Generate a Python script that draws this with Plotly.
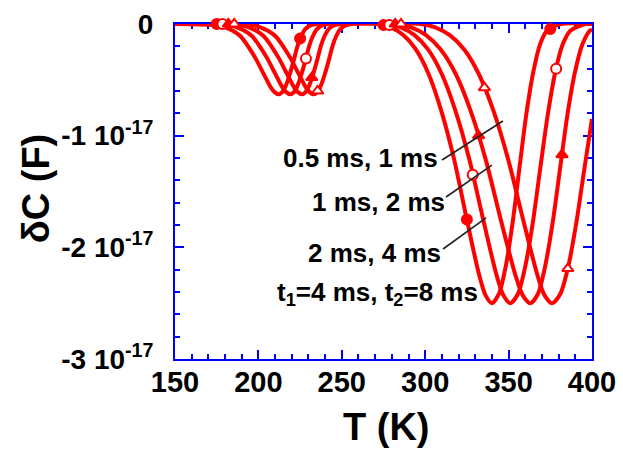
import plotly.graph_objects as go

# ---------------- data (units of 1e-17 F) ----------------
# curve for t1=4 ms, t2=8 ms (filled circles)
T_A = [150, 175.6, 180.2, 184.7, 189.3, 193.8, 198.4, 202.9, 207.5, 209.7, 212, 214.3, 216.5, 218.8, 221.1,
       223.4, 225.6, 227.9, 230.2, 234.7,
       271.8, 279.4, 287, 294.5, 302.1, 309.7, 317.3, 324.8, 332.4, 336.2, 340, 344.1, 348.3, 352.4, 356.5,
       360.6, 364.8, 368.9, 373, 381.3, 400]
C_A = [0, -0.01, -0.03, -0.06, -0.11, -0.20, -0.31, -0.44, -0.57, -0.61, -0.63, -0.61, -0.55, -0.45, -0.33,
       -0.20, -0.11, -0.05, -0.02, 0,
       0, -0.03, -0.10, -0.23, -0.45, -0.78, -1.21, -1.74, -2.25, -2.43, -2.50, -2.42, -2.17, -1.78, -1.29,
       -0.81, -0.43, -0.18, -0.06, 0, 0]

# curve for 2 ms, 4 ms (open circles)
T_B = [150, 182.6, 187.2, 191.7, 196.3, 200.8, 205.4, 209.9, 214.5, 216.7, 219, 221.3, 223.5, 225.8, 228.1,
       230.4, 232.6, 234.9, 237.2, 241.7,
       277.2, 285.4, 293.6, 301.8, 310, 318.2, 326.4, 334.6, 342.8, 346.9, 351, 355.5, 360, 364.5, 369,
       373.5, 378, 382.5, 387, 396, 400]
C_B = [0, -0.01, -0.03, -0.06, -0.11, -0.20, -0.31, -0.44, -0.57, -0.61, -0.63, -0.61, -0.55, -0.45, -0.33,
       -0.20, -0.11, -0.05, -0.02, 0,
       0, -0.03, -0.10, -0.23, -0.45, -0.78, -1.21, -1.74, -2.25, -2.43, -2.50, -2.42, -2.17, -1.78, -1.29,
       -0.81, -0.43, -0.18, -0.06, 0, 0]

# curve for 1 ms, 2 ms (filled triangles)
T_C = [150, 189.6, 194.2, 198.7, 203.3, 207.8, 212.4, 216.9, 221.5, 223.7, 226, 228.3, 230.5, 232.8, 235.1,
       237.4, 239.6, 241.9, 244.2, 248.7,
       282.6, 291.6, 300.5, 309.4, 318.4, 327.3, 336.2, 345.1, 354.1, 358.5, 363, 367.5, 371.9, 376.4, 380.9,
       385.3, 389.8, 394.3, 398.7, 400]
C_C = [0, -0.01, -0.03, -0.06, -0.11, -0.20, -0.31, -0.44, -0.57, -0.61, -0.63, -0.61, -0.55, -0.45, -0.33,
       -0.20, -0.11, -0.05, -0.02, 0,
       0, -0.03, -0.10, -0.23, -0.45, -0.78, -1.21, -1.74, -2.25, -2.43, -2.50, -2.42, -2.17, -1.78, -1.29,
       -0.81, -0.43, -0.18, -0.06, -0.05]

# curve for 0.5 ms, 1 ms (open triangles)
T_D = [150, 196.6, 201.2, 205.7, 210.3, 214.8, 219.4, 223.9, 228.5, 230.7, 233, 235.3, 237.5, 239.8, 242.1,
       244.4, 246.6, 248.9, 251.2, 255.7,
       297.3, 306, 314.7, 323.5, 332.2, 341, 349.7, 358.5, 367.3, 371.6, 376, 380.9, 385.8, 390.6, 395.5, 400]
C_D = [0, -0.01, -0.03, -0.06, -0.11, -0.20, -0.31, -0.44, -0.57, -0.61, -0.63, -0.61, -0.55, -0.45, -0.33,
       -0.20, -0.11, -0.05, -0.02, 0,
       0, -0.03, -0.10, -0.23, -0.45, -0.78, -1.21, -1.74, -2.25, -2.43, -2.50, -2.42, -2.17, -1.78, -1.29, -0.85]

# marker points on each curve
MT_A = [175, 225, 275, 325, 375]
MC_A = [0, -0.13, -0.01, -1.75, -0.045]
MT_B = [178.5, 228.5, 278.5, 328.5, 378.5]
MC_B = [0, -0.31, -0.01, -1.35, -0.40]
MT_C = [182, 232, 282, 332, 382]
MC_C = [0, -0.48, 0, -1.0, -1.17]
MT_D = [185.5, 235.5, 285.5, 335.5, 385.5]
MC_D = [0, -0.60, 0, -0.57, -2.19]

x_ticks = [150, 200, 250, 300, 350, 400]
y_ticks = [0, -1, -2, -3]
y_ticktext = ["0", "-1 10<sup>-17</sup>", "-2 10<sup>-17</sup>", "-3 10<sup>-17</sup>"]

labels = ["0.5 ms, 1 ms", "1 ms, 2 ms", "2 ms, 4 ms", "t<sub>1</sub>=4 ms, t<sub>2</sub>=8 ms"]
label_x = [309.0, 313.1, 310.7, 332.9]
label_y = [-1.20, -1.594, -2.051, -2.409]
leaders = [((310.1, -1.218), (346.6, -0.869)),
           ((312.5, -1.549), (340.0, -1.263)),
           ((310.7, -2.015), (336.5, -1.737))]

RED = "#ff0000"
BLUE = "#0000ff"
FONT = "Liberation Sans"

fig = go.Figure()
for T, C in [(T_A, C_A), (T_B, C_B), (T_C, C_C), (T_D, C_D)]:
    fig.add_trace(go.Scatter(x=T, y=C, mode="lines",
                             line=dict(color=RED, width=4, shape="spline", smoothing=0.8),
                             showlegend=False, hoverinfo="skip"))

marker_specs = [
    (MT_A, MC_A, "circle", RED),
    (MT_B, MC_B, "circle", "white"),
    (MT_C, MC_C, "triangle-up", RED),
    (MT_D, MC_D, "triangle-up", "white"),
]
for mx, my, sym, fill in marker_specs:
    fig.add_trace(go.Scatter(x=mx, y=my, mode="markers", cliponaxis=False,
                             marker=dict(symbol=sym, size=10, color=fill,
                                         line=dict(color=RED, width=2)),
                             showlegend=False, hoverinfo="skip"))

for (p0, p1) in leaders:
    fig.add_shape(type="line", xref="x", yref="y", x0=p0[0], y0=p0[1], x1=p1[0], y1=p1[1],
                  line=dict(color="#222222", width=1.6))

for txt, lx, ly in zip(labels, label_x, label_y):
    fig.add_annotation(x=lx, y=ly, xref="x", yref="y", text=txt, showarrow=False,
                       xanchor="right", yanchor="middle",
                       font=dict(family=FONT, size=26, color="black", weight="bold"))

fig.add_annotation(x=-0.333, y=0.51, xref="paper", yref="paper", text="δC (F)", textangle=-90,
                   showarrow=False, xanchor="center", yanchor="middle",
                   font=dict(family=FONT, size=38, color="black", weight="bold"))
fig.add_annotation(x=0.508, y=-0.203, xref="paper", yref="paper", text="T (K)",
                   showarrow=False, xanchor="center", yanchor="middle",
                   font=dict(family=FONT, size=38, color="black", weight="bold"))

fig.update_xaxes(range=[150, 400], tickmode="array", tickvals=x_ticks,
                 ticks="inside", ticklen=9, tickwidth=2, tickcolor=BLUE,
                 showline=True, linecolor=BLUE, linewidth=2, mirror="ticks",
                 minor=dict(tickmode="linear", tick0=150, dtick=10, ticks="inside",
                            ticklen=5, tickwidth=1.5, tickcolor=BLUE),
                 showgrid=False, zeroline=False, automargin=False, layer="below traces",
                 ticklabelstandoff=-4,
                 tickfont=dict(family=FONT, size=29, color="black", weight="bold"))
fig.update_yaxes(range=[-3, 0], tickmode="array", tickvals=y_ticks, ticktext=y_ticktext,
                 ticks="inside", ticklen=9, tickwidth=2, tickcolor=BLUE,
                 showline=True, linecolor=BLUE, linewidth=2, mirror="ticks",
                 minor=dict(tickmode="linear", tick0=0, dtick=0.2, ticks="inside",
                            ticklen=5, tickwidth=1.5, tickcolor=BLUE),
                 showgrid=False, zeroline=False, automargin=False, layer="below traces",
                 ticklabelstandoff=14,
                 tickfont=dict(family=FONT, size=28, color="black", weight="bold"))

fig.update_layout(width=623, height=451, margin=dict(l=175, r=31, t=24, b=92),
                  paper_bgcolor="white", plot_bgcolor="white", showlegend=False)

fig.write_html("out.html")
